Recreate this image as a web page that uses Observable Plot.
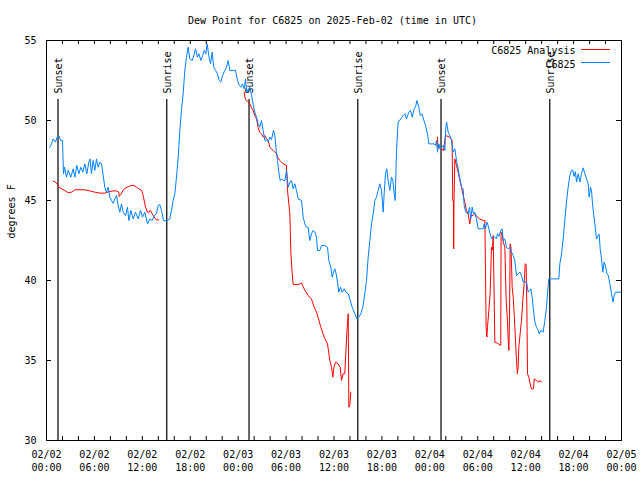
<!DOCTYPE html>
<html><head><meta charset="utf-8">
<script src="https://cdn.jsdelivr.net/npm/d3@7"></script>
<script src="https://cdn.jsdelivr.net/npm/@observablehq/plot@0.6"></script>
<style>body{margin:0;background:#fff} svg{display:block}</style>
</head><body><div id="chart"></div>
<script>
const title = "Dew Point for C6825 on 2025-Feb-02 (time in UTC)";
const yLabel = "degrees F";
const xTickHours = [0, 6, 12, 18, 24, 30, 36, 42, 48, 54, 60, 66, 72];
const xTickLabels = ["02/02\n00:00","02/02\n06:00","02/02\n12:00","02/02\n18:00","02/03\n00:00","02/03\n06:00","02/03\n12:00","02/03\n18:00","02/04\n00:00","02/04\n06:00","02/04\n12:00","02/04\n18:00","02/05\n00:00"];
const xMinorHours = [0,2,4,6,8,10,12,14,16,18,20,22,24,26,28,30,32,34,36,38,40,42,44,46,48,50,52,54,56,58,60,62,64,66,68,70,72];
const yTicks = [30, 35, 40, 45, 50, 55];
const sunHours = [1.44, 15.06, 25.36, 38.98, 49.4, 63.02];
const sunLabels = ["Sunset", "Sunrise", "Sunset", "Sunrise", "Sunset", "Sunrise"];
const seriesNames = ["C6825 Analysis", "C6825"];
const seriesColors = ["#ff0000", "#0080ff"];

// C6825 observations (hours since 02/02 00:00 UTC, deg F)
const blueHours = [0.42,0.63,0.83,1.13,1.33,1.54,1.79,2.0,2.13,2.25,2.5,2.71,3.05,3.34,3.55,3.8,4.05,4.3,4.55,4.8,5.05,5.3,5.46,5.63,5.84,6.05,6.26,6.47,6.68,6.89,7.1,7.3,7.5,7.72,7.93,8.14,8.35,8.56,8.77,8.97,9.18,9.39,9.6,9.89,10.14,10.31,10.56,10.85,11.14,11.48,11.77,12.02,12.31,12.65,12.94,13.24,13.49,13.77,13.98,14.19,14.4,14.65,15.03,15.44,15.65,15.86,16.07,16.28,16.49,16.7,16.9,17.11,17.32,17.53,17.74,17.95,18.24,18.45,18.66,18.9,19.08,19.33,19.55,19.75,19.95,20.12,20.32,20.54,20.74,20.95,21.16,21.41,21.62,21.83,22.04,22.33,22.54,22.75,22.95,23.67,23.92,24.13,24.33,24.54,24.76,24.92,25.08,25.3,25.46,25.67,25.88,26.08,26.3,26.5,26.7,26.92,27.13,27.34,27.55,27.76,27.96,28.17,28.43,28.59,28.76,28.93,29.09,29.26,29.45,29.64,29.85,30.05,30.26,30.47,30.68,30.89,31.1,31.3,31.52,31.93,32.14,32.35,32.56,32.76,32.97,33.18,33.39,33.6,33.81,33.93,34.23,34.44,34.85,35.19,35.35,35.6,35.77,35.94,36.1,36.27,36.44,36.6,36.81,37.02,37.28,37.5,37.78,37.98,38.28,38.61,38.86,39.11,39.36,39.61,39.86,40.07,40.28,40.49,40.7,40.91,41.11,41.32,41.53,41.74,41.95,42.16,42.28,42.45,42.61,42.78,42.99,43.2,43.37,43.54,43.66,43.83,44.03,44.36,44.66,44.87,45.08,45.37,45.58,45.79,46.04,46.2,46.38,46.62,46.8,47.0,47.2,47.46,47.71,47.87,48.2,48.54,48.7,48.84,48.96,49.13,49.3,49.5,49.67,49.88,50.0,50.1,50.3,50.5,50.71,50.92,51.13,51.25,51.38,51.55,51.76,51.97,52.17,52.3,52.5,52.8,52.96,53.13,53.3,53.46,53.63,53.84,54.05,54.47,54.68,54.8,54.97,55.14,55.3,55.5,55.72,55.93,56.14,56.34,56.47,56.64,56.88,57.06,57.18,57.39,57.6,57.8,58.02,58.23,58.44,58.64,58.85,59.06,59.27,59.48,59.69,59.9,60.11,60.32,60.53,60.65,60.82,60.94,61.15,61.36,61.57,61.69,61.9,62.19,62.4,62.61,62.73,62.9,64.07,64.15,64.28,64.49,64.7,64.9,65.11,65.32,65.53,65.74,65.9,66.07,66.23,66.37,66.58,66.79,66.99,67.2,67.41,67.62,67.83,67.95,68.12,68.25,68.37,68.53,68.66,68.87,69.08,69.2,69.33,69.5,69.66,69.83,70.0,70.17,70.33,70.54,70.75,70.92,71.09,71.25,72.0];
const blueValues = [48.33,48.54,48.85,48.65,48.96,49.06,48.75,48.75,46.67,47.08,46.46,46.88,46.46,46.98,46.46,47.19,46.67,47.08,46.77,47.29,46.67,47.4,47.6,46.67,47.5,46.88,47.6,47.08,47.4,47.29,46.56,45.83,45.52,45.83,45.21,45.0,44.83,45.1,45.31,44.69,44.27,44.79,44.27,44.06,44.58,43.75,44.38,43.85,44.27,43.85,44.38,43.96,44.27,43.54,43.85,43.75,44.06,44.17,44.69,44.75,44.38,43.75,43.71,43.85,44.38,45.0,45.42,46.46,47.71,49.38,50.63,51.67,53.13,53.96,54.58,53.85,53.75,54.06,54.48,53.96,54.17,53.75,54.06,54.38,54.17,54.79,54.06,53.54,54.27,53.33,53.13,52.92,52.5,52.4,52.8,53.13,53.33,53.75,53.13,53.13,52.5,52.19,52.08,52.29,51.98,52.6,51.77,51.98,52.08,51.6,51.0,50.52,50.2,49.79,49.58,50.0,49.38,48.75,48.8,48.65,48.96,48.8,49.38,49.06,48.13,47.5,46.77,46.25,46.35,46.25,46.25,46.88,45.83,46.15,46.25,45.73,46.04,45.63,45.1,45.0,43.96,43.54,43.33,43.33,42.5,42.92,43.13,43.02,42.71,41.88,41.88,42.19,42.19,42.08,41.25,40.83,40.21,40.52,40.73,40.42,39.9,39.27,39.58,39.27,39.48,39.27,39.17,38.85,38.33,37.92,37.6,37.71,37.92,38.33,39.17,40.0,41.46,42.5,43.54,44.17,45.0,45.21,45.63,46.04,45.63,44.27,45.42,46.67,46.98,46.25,45.63,46.46,46.25,45.42,45.0,48.13,49.9,50.1,50.31,50.42,50.1,50.52,50.63,50.2,50.73,50.83,51.25,50.83,50.31,50.42,50.1,49.69,49.17,48.54,48.54,48.54,48.44,48.75,48.02,48.54,48.23,48.33,48.44,48.13,49.58,49.9,49.27,49.06,48.75,48.02,48.23,47.81,47.4,46.98,46.35,45.83,45.73,44.69,44.27,44.17,44.58,43.85,44.58,44.17,44.27,43.85,43.23,43.23,43.23,43.54,43.23,43.65,43.44,43.02,42.6,42.71,42.71,42.6,42.92,42.75,43.13,43.23,42.5,42.6,42.08,41.98,42.08,41.77,41.56,41.25,40.31,40.42,40.52,40.31,39.9,39.9,39.9,39.27,39.38,39.48,38.96,38.33,37.4,37.08,36.88,36.67,36.88,36.77,37.5,38.33,39.17,40.1,40.1,40.1,41.04,41.67,42.6,43.75,44.9,45.83,46.56,46.88,46.9,46.5,46.8,46.15,46.67,46.15,46.67,47.04,46.67,46.35,46.04,45.21,45.83,45.6,44.79,44.06,43.54,42.6,42.81,42.9,41.98,41.35,40.52,41.15,40.9,40.42,40.35,39.79,39.17,38.65,39.06,39.27,39.27];

// C6825 Analysis (NaN marks a gap in the series)
const redHours = [0.84,1.13,1.38,1.54,1.88,2.3,2.71,3.13,3.55,4.18,4.8,5.42,6.05,6.68,7.3,7.72,8.35,8.77,9.06,9.1,9.3,9.6,9.85,10.31,10.65,10.98,11.27,11.56,11.9,12.11,12.23,12.4,12.65,12.85,13.0,13.24,13.49,13.77,14.06,
  20,
  24.76,24.84,25.0,25.2,25.46,25.67,25.88,26.08,26.3,26.5,26.7,26.92,27.13,27.34,27.55,27.76,27.96,28.38,28.8,28.93,29.22,29.64,30.05,30.18,30.47,30.6,30.77,30.89,31.51,31.93,32.26,32.76,33.18,33.52,33.81,34.0,34.35,34.77,35.19,35.48,35.69,35.85,36.0,36.19,36.5,36.77,36.94,37.14,37.35,37.6,37.78,37.86,37.98,38.1,
  44,
  48.96,49.0,49.38,49.71,49.96,50.3,50.5,50.79,50.87,50.95,50.99,51.03,51.13,51.34,51.55,51.76,51.97,52.17,52.38,52.59,52.8,53.0,53.13,53.42,53.63,53.96,54.26,54.68,54.89,54.97,55.05,55.14,55.22,55.39,55.55,55.72,55.85,55.93,56.05,56.14,56.47,56.88,56.92,57.06,57.2,57.39,57.56,57.72,57.82,57.9,57.98,58.06,58.15,58.23,58.31,58.44,58.56,58.73,58.85,58.96,59.06,59.14,59.31,59.48,59.64,59.81,59.94,60.06,60.15,60.23,60.4,60.56,60.73,60.98,61.07,61.36,61.65,61.8,61.98];
const redValues = [46.21,46.15,46.0,45.83,45.73,45.63,45.48,45.52,45.67,45.67,45.67,45.6,45.52,45.46,45.46,45.54,45.6,45.6,45.52,45.25,45.38,45.63,45.77,45.88,45.94,45.94,45.83,45.73,45.63,45.31,45.0,44.58,44.27,44.27,44.38,44.17,43.96,43.79,43.79,
  NaN,
  51.77,51.46,51.25,51.2,51.04,50.8,50.63,50.3,50.1,49.58,49.27,49.17,48.96,49.06,48.85,48.75,48.33,48.13,47.92,47.71,47.5,47.29,47.19,45.63,44.17,41.67,40.42,39.75,39.75,39.83,39.48,39.06,38.85,38.33,38.02,37.71,37.08,36.46,36.04,35.0,34.58,33.96,34.58,34.9,34.8,34.58,33.75,34.17,34.17,36.67,37.92,32.08,32.2,33.02,
  NaN,
  48.96,48.33,48.23,48.13,49.06,49.0,48.96,48.75,45.0,45.0,41.98,45.0,47.6,47.19,46.77,46.25,45.83,45.31,44.9,44.38,44.17,43.54,44.06,44.06,44.17,43.96,43.85,43.75,43.75,40.63,37.08,36.46,37.08,38.13,39.17,42.08,41.9,42.81,39.17,36.15,36.08,35.94,43.02,42.9,42.4,42.08,38.75,37.5,36.25,35.63,37.92,42.29,42.1,41.04,39.58,38.96,37.92,36.25,35.0,34.17,34.6,35.83,36.67,37.5,38.75,39.79,41.04,41.0,38.33,34.17,33.96,33.54,33.23,33.23,33.85,33.75,33.65,33.75,33.65];

const blue = blueHours.map((h, i) => ({h, v: blueValues[i]}));
const red = redHours.map((h, i) => ({h, v: redValues[i]}));

const W = 640, H = 480, mL = 46, mR = 19, mT = 40, mB = 40;
const fw = W - mL - mR, fh = H - mT - mB;
const font = "'DejaVu Sans Mono', monospace";

const chart = Plot.plot({
  width: W, height: H,
  marginLeft: mL, marginRight: mR, marginTop: mT, marginBottom: mB,
  style: {fontFamily: font, fontSize: "10px", background: "#fff", color: "#000"},
  x: {domain: [0, 72]},
  y: {domain: [30, 55]},
  marks: [
    Plot.axisX({ticks: xTickHours, tickSize: 0, tickPadding: 8, label: null,
      tickFormat: d => xTickLabels[xTickHours.indexOf(d)], lineHeight: 1.3, fill: "#000"}),
    Plot.axisY({ticks: yTicks, tickSize: 0, tickPadding: 10, label: null, fill: "#000"}),
    Plot.tickY(yTicks, {insetRight: fw - 5, stroke: "#000"}),
    Plot.tickY(yTicks, {insetLeft: fw - 5, stroke: "#000"}),
    Plot.tickX(xMinorHours, {insetTop: fh - 4, stroke: "#000"}),
    Plot.tickX(xMinorHours, {insetBottom: fh - 4, stroke: "#000"}),
    Plot.ruleX(sunHours, {insetTop: 59, stroke: "#000", strokeWidth: 1.2}),
    Plot.text(sunHours, {x: d => d, text: (d, i) => sunLabels[i], frameAnchor: "top", dy: 53, dx: -3,
      rotate: -90, textAnchor: "start", fill: "#000"}),
    Plot.line(red, {x: "h", y: "v", stroke: seriesColors[0], strokeWidth: 1}),
    Plot.line(blue, {x: "h", y: "v", stroke: seriesColors[1], strokeWidth: 1}),
    Plot.frame({stroke: "#000"}),
    Plot.text([title], {frameAnchor: "top", dy: -24, dx: -1.5, fill: "#000"}),
    Plot.text([yLabel], {frameAnchor: "left", dx: -35, dy: -2, rotate: -90, fill: "#000"}),
    Plot.text([seriesNames[0]], {frameAnchor: "top-right", dx: -46, dy: 6.5, textAnchor: "end", fill: "#000"}),
    Plot.text([seriesNames[1]], {frameAnchor: "top-right", dx: -46, dy: 20, textAnchor: "end", fill: "#000"})
  ]
});
document.getElementById("chart").appendChild(chart);

// legend sample lines
const svg = d3.select(chart);
const lx1 = W - mR - 40, lx2 = W - mR - 11;
[[mT + 9.5, seriesColors[0]], [mT + 22.5, seriesColors[1]]].forEach(([y, c]) => {
  svg.append("line").attr("x1", lx1).attr("x2", lx2).attr("y1", y).attr("y2", y)
    .attr("stroke", c).attr("stroke-width", 1);
});
</script>
</body></html>
